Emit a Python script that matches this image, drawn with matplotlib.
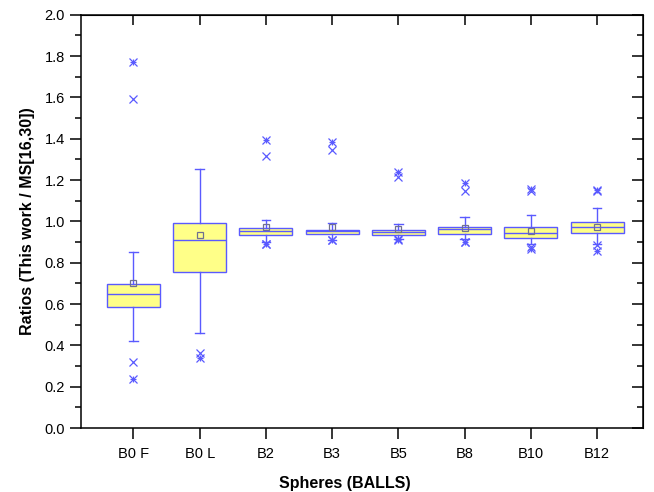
import matplotlib.pyplot as plt
from matplotlib.ticker import MultipleLocator

plt.rcParams["font.family"] = ["Liberation Sans", "DejaVu Sans"]

# datos (box plot estilo Origin)
categorias = ["B0 F", "B0 L", "B2", "B3", "B5", "B8", "B10", "B12"]
q1 = [0.584, 0.755, 0.936, 0.939, 0.936, 0.939, 0.921, 0.945]
mediana = [0.647, 0.908, 0.953, 0.952, 0.947, 0.962, 0.944, 0.971]
q3 = [0.695, 0.991, 0.970, 0.960, 0.957, 0.971, 0.971, 0.996]
bigote_inf = [0.420, 0.462, 0.902, 0.910, 0.913, 0.913, 0.889, 0.889]
bigote_sup = [0.853, 1.253, 1.005, 0.992, 0.987, 1.023, 1.031, 1.066]
media = [0.703, 0.936, 0.973, 0.971, 0.963, 0.968, 0.955, 0.973]
# percentiles 1% / 99% (x) y min / max (*)
p01 = [0.320, 0.365, 0.893, 0.910, 0.913, 0.902, 0.877, 0.885]
p99 = [1.593, None, 1.318, 1.346, 1.217, 1.149, 1.149, 1.146]
minimo = [0.239, 0.339, 0.889, 0.908, 0.911, 0.900, 0.866, 0.857]
maximo = [1.771, None, 1.395, 1.382, 1.241, 1.188, 1.155, 1.150]

azul = "#5a5aff"
amarillo = "#ffff88"

posiciones = list(range(1, len(categorias) + 1))
stats = []
for i in range(len(categorias)):
    stats.append({"med": mediana[i], "q1": q1[i], "q3": q3[i],
                  "whislo": bigote_inf[i], "whishi": bigote_sup[i],
                  "mean": media[i], "fliers": []})

fig, ax = plt.subplots(figsize=(6.54, 4.92), dpi=100)
fig.subplots_adjust(left=0.124, right=0.983, top=0.970, bottom=0.130)

ax.bxp(stats, positions=posiciones, widths=0.8, patch_artist=True,
       showmeans=True, showfliers=False,
       boxprops=dict(facecolor=amarillo, edgecolor=azul, linewidth=1.0),
       medianprops=dict(color=azul, linewidth=1.0),
       whiskerprops=dict(color=azul, linewidth=1.0),
       capprops=dict(color=azul, linewidth=1.0),
       meanprops=dict(marker="s", markerfacecolor="none", markeredgecolor="#707090",
                      markersize=5, markeredgewidth=0.9),
       capwidths=0.13)

# marcadores x (1% / 99%) y * (min / max)
for i, x in enumerate(posiciones):
    for v in (p01[i], p99[i]):
        if v is not None:
            ax.plot(x, v, marker="x", color=azul, markersize=6, markeredgewidth=0.9)
    for v in (minimo[i], maximo[i]):
        if v is not None:
            ax.plot(x, v, marker="x", color=azul, markersize=6, markeredgewidth=0.9)
            ax.plot(x, v, marker="+", color=azul, markersize=5, markeredgewidth=0.9)

ax.set_xlim(0.21, 8.69)
ax.set_ylim(0.0, 2.0)
ax.set_xticks(posiciones)
ax.set_xticklabels(categorias)
ax.yaxis.set_major_locator(MultipleLocator(0.2))
ax.yaxis.set_minor_locator(MultipleLocator(0.1))
ax.yaxis.set_major_formatter(plt.FormatStrFormatter("%.1f"))

for lado in ax.spines.values():
    lado.set_linewidth(1.1)
ax.tick_params(axis="x", which="major", direction="out", length=8, width=1.1,
               labelsize=10.5, top=False, pad=6)
ax.tick_params(axis="y", which="major", direction="out", length=8, width=1.1,
               labelsize=10.5, right=False)
ax.tick_params(axis="y", which="minor", direction="out", length=4.5, width=1.1, right=False)

# ticks interiores a la derecha y arriba
ax2 = ax.secondary_yaxis("right")
ax2.yaxis.set_major_locator(MultipleLocator(0.2))
ax2.yaxis.set_minor_locator(MultipleLocator(0.1))
ax2.tick_params(which="major", direction="in", length=8, width=1.1, labelright=False)
ax2.tick_params(which="minor", direction="in", length=4.5, width=1.1)
ax3 = ax.secondary_xaxis("top")
ax3.set_xticks(posiciones)
ax3.tick_params(direction="in", length=7, width=1.1, labeltop=False)

ax.set_xlabel("Spheres (BALLS)", fontsize=11.5, fontweight="bold")
ax.xaxis.set_label_coords(0.47, -0.115)
ax.set_ylabel("Ratios (This work / MS[16,30])", fontsize=11.5, fontweight="bold", labelpad=7)

plt.savefig("out.png", dpi=100)
plt.close()
